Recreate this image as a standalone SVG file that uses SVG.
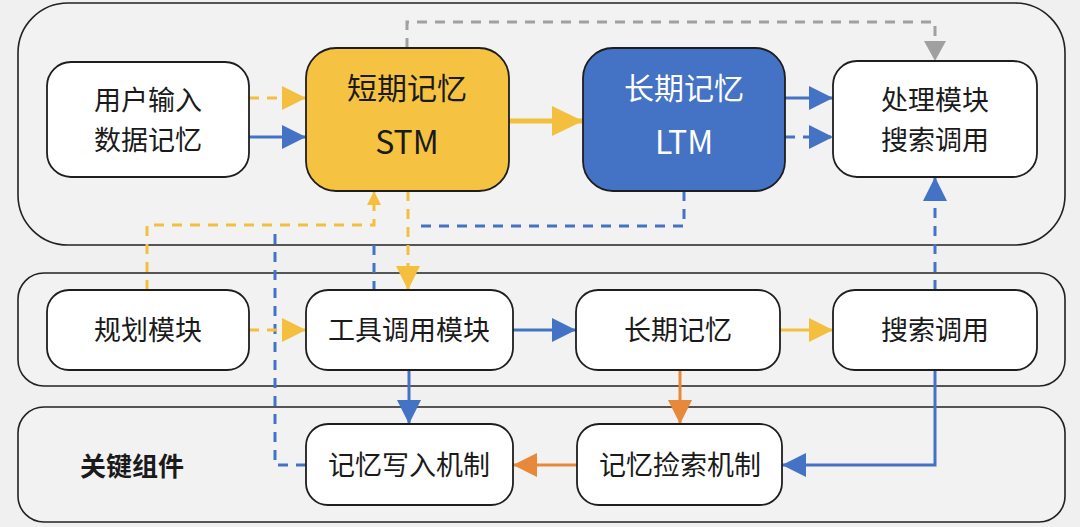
<svg xmlns="http://www.w3.org/2000/svg" width="1080" height="527" viewBox="0 0 1080 527">
<defs>
<style>
.bg{fill:#f0f0f0}
.cont{fill:#f2f2f2;stroke:#222;stroke-width:1.6}
.node{fill:#fff;stroke:#1e1e1e;stroke-width:1.8}
.stm{fill:#f5c242;stroke:#1e1e1e;stroke-width:1.8}
.ltm{fill:#4472c4;stroke:#1e1e1e;stroke-width:1.8}
text{font-family:"Noto Sans CJK SC","Noto Sans",sans-serif;fill:#1a1a1a;text-anchor:middle;dominant-baseline:central}
.t{font-size:27px}
.tb{font-size:30px}
.tl{font-size:32px}
.w{fill:#fff}
.lbl{font-size:26px;font-weight:bold;text-anchor:start}
.c{fill:none;stroke-width:3}
.y{stroke:#f4bf3f}
.b{stroke:#4472c4}
.o{stroke:#e8883a}
.g{stroke:#a0a0a0}
.d{stroke-dasharray:10 8}
</style>
<marker id="aY" markerUnits="userSpaceOnUse" markerWidth="24" markerHeight="24" refX="24" refY="12" orient="auto"><path d="M0,0L24,12L0,24z" fill="#f4bf3f"/></marker>
<marker id="aYL" markerUnits="userSpaceOnUse" markerWidth="31" markerHeight="30" refX="31" refY="15" orient="auto"><path d="M0,0L31,15L0,30z" fill="#f4bf3f"/></marker>
<marker id="aYs" markerUnits="userSpaceOnUse" markerWidth="14" markerHeight="14" refX="14" refY="7" orient="auto"><path d="M0,0L14,7L0,14z" fill="#f4bf3f"/></marker>
<marker id="aB" markerUnits="userSpaceOnUse" markerWidth="24" markerHeight="24" refX="24" refY="12" orient="auto"><path d="M0,0L24,12L0,24z" fill="#4472c4"/></marker>
<marker id="aO" markerUnits="userSpaceOnUse" markerWidth="24" markerHeight="24" refX="24" refY="12" orient="auto"><path d="M0,0L24,12L0,24z" fill="#e8883a"/></marker>
<marker id="aG" markerUnits="userSpaceOnUse" markerWidth="20" markerHeight="22" refX="20" refY="11" orient="auto"><path d="M0,0L20,11L0,22z" fill="#a0a0a0"/></marker>
</defs>
<rect class="bg" x="0" y="0" width="1080" height="527"/>
<g id="containers">
<rect class="cont" x="18" y="3" width="1047" height="242" rx="50"/>
<rect class="cont" x="18" y="273" width="1047" height="113" rx="26"/>
<rect class="cont" x="18" y="407" width="1047" height="115" rx="26"/>
<text class="lbl" x="80" y="464">关键组件</text>
</g>
<g id="connectors">
<path class="c y d" d="M249,98H306" marker-end="url(#aY)"/>
<path class="c b" d="M249,137H306" marker-end="url(#aB)"/>
<path class="c y" style="stroke-width:5" d="M509,121H583" marker-end="url(#aYL)"/>
<path class="c b" d="M785,98H833" marker-end="url(#aB)"/>
<path class="c b d" d="M785,137H833" marker-end="url(#aB)"/>
<path class="c g d" d="M407,48V22H935V61" marker-end="url(#aG)"/>
<path class="c y d" d="M408,191V290" marker-end="url(#aY)"/>
<path class="c y d" d="M147,290V225H374V191" marker-end="url(#aYs)"/>
<path class="c b d" d="M684,191V226H417"/>
<path class="c b d" d="M374,245V290"/>
<path class="c b d" d="M306,465H275V228"/>
<path class="c y d" d="M249,330H306" marker-end="url(#aY)"/>
<path class="c b" d="M513,330H576" marker-end="url(#aB)"/>
<path class="c y" d="M780,330H833" marker-end="url(#aY)"/>
<path class="c b d" d="M935,290V177" marker-end="url(#aB)"/>
<path class="c b" d="M409,370V424" marker-end="url(#aB)"/>
<path class="c o" d="M680,370V424" marker-end="url(#aO)"/>
<path class="c o" d="M577,465H513" marker-end="url(#aO)"/>
<path class="c b" d="M935,370V465H782" marker-end="url(#aB)"/>
</g>
<g id="n-input">
<rect class="node" x="47" y="62" width="202" height="115" rx="24"/>
<text class="t" x="148" y="98">用户输入</text>
<text class="t" x="148" y="138">数据记忆</text>
</g>
<g id="n-stm">
<rect class="stm" x="306" y="48" width="203" height="143" rx="30"/>
<text class="tb" x="407" y="86">短期记忆</text>
<text class="tl" x="407" y="140">STM</text>
</g>
<g id="n-ltm">
<rect class="ltm" x="583" y="48" width="202" height="143" rx="30"/>
<text class="tb w" x="684" y="86">长期记忆</text>
<text class="tl w" x="684" y="140">LTM</text>
</g>
<g id="n-proc">
<rect class="node" x="833" y="61" width="204" height="116" rx="24"/>
<text class="t" x="935" y="98">处理模块</text>
<text class="t" x="935" y="138">搜索调用</text>
</g>
<g id="n-plan">
<rect class="node" x="47" y="290" width="202" height="80" rx="22"/>
<text class="t" x="148" y="328">规划模块</text>
</g>
<g id="n-tool">
<rect class="node" x="306" y="290" width="207" height="80" rx="22"/>
<text class="t" x="409" y="328">工具调用模块</text>
</g>
<g id="n-ltm2">
<rect class="node" x="576" y="290" width="204" height="80" rx="22"/>
<text class="t" x="678" y="328">长期记忆</text>
</g>
<g id="n-search">
<rect class="node" x="833" y="290" width="204" height="80" rx="22"/>
<text class="t" x="935" y="328">搜索调用</text>
</g>
<g id="n-write">
<rect class="node" x="306" y="424" width="207" height="81" rx="22"/>
<text class="t" x="409" y="463">记忆写入机制</text>
</g>
<g id="n-retrieve">
<rect class="node" x="577" y="424" width="205" height="81" rx="22"/>
<text class="t" x="680" y="463">记忆捡索机制</text>
</g>
</svg>
